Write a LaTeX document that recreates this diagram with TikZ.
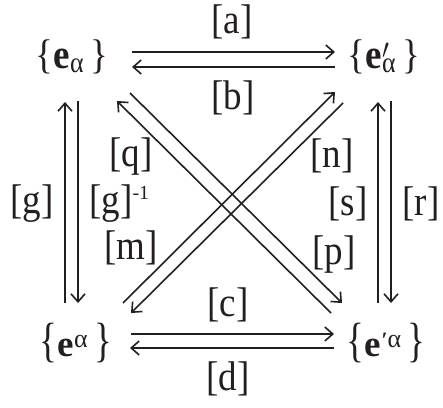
\documentclass[tikz,border=0pt]{standalone}
\usepackage{fontspec}
\setmainfont{Liberation Serif}
\usepackage{graphicx}
\usetikzlibrary{arrows.meta}
\definecolor{ink}{RGB}{35,31,32}
\newcommand\lbl[1]{\scalebox{1}[1.12]{[#1]}}
\newcommand\bigbr[1]{\scalebox{1}[1.3]{#1}}
\begin{document}
\begin{tikzpicture}[x=1pt,y=1pt,
  lab/.style={font=\fontsize{37}{40}\selectfont, inner sep=0pt, text=ink},
  vec/.style={font=\fontsize{37}{40}\selectfont, inner sep=0pt, text=ink},
  arr/.style={-{Straight Barb[length=8pt,width=14pt,line width=1.6pt]}, line width=1.6pt, draw=ink}]
\useasboundingbox (0,0) rectangle (443,407);
% vertex nodes
\node[vec] (A) at (72,350) {\scalebox{1}[1.12]{\{\textbf{e}\textsubscript{α}\,\}}};
\node[vec] (B) at (384,350) {\scalebox{1}[1.12]{\{\textbf{e}\rlap{$'$}\textsubscript{α}\,\}}};
\node[vec] (C) at (76,64) {\bigbr{\{}\textbf{e}\textsuperscript{α}\,\bigbr{\}}};
\node[vec] (D) at (386,64) {\bigbr{\{}\textbf{e}\kern1pt\raisebox{9pt}{\fontsize{22}{22}\selectfont\bfseries ′}\textsuperscript{α}\,\bigbr{\}}};
% arrow endpoints
\coordinate (a1) at (132,355); \coordinate (a2) at (335,355);
\coordinate (b1) at (335,340); \coordinate (b2) at (132,340);
\coordinate (c1) at (131,73);  \coordinate (c2) at (334,73);
\coordinate (d1) at (334,59);  \coordinate (d2) at (130,59);
\coordinate (gu1) at (65,104); \coordinate (gu2) at (65,305);
\coordinate (gd1) at (78,306); \coordinate (gd2) at (78,104);
\coordinate (ru1) at (378,104); \coordinate (ru2) at (378,305);
\coordinate (rd1) at (391,306); \coordinate (rd2) at (391,104);
\coordinate (q1) at (331,94);  \coordinate (q2) at (117,306);
\coordinate (p1) at (130,314); \coordinate (p2) at (342,104);
\coordinate (n1) at (123,104); \coordinate (n2) at (335,315);
\coordinate (m1) at (343,304); \coordinate (m2) at (131,94);
% arrows
\draw[arr] (a1) -- (a2);
\draw[arr] (b1) -- (b2);
\draw[arr] (c1) -- (c2);
\draw[arr] (d1) -- (d2);
\draw[arr] (gu1) -- (gu2);
\draw[arr] (gd1) -- (gd2);
\draw[arr] (ru1) -- (ru2);
\draw[arr] (rd1) -- (rd2);
\draw[arr] (q1) -- (q2);
\draw[arr] (p1) -- (p2);
\draw[arr] (n1) -- (n2);
\draw[arr] (m1) -- (m2);
% labels
\node[lab] (La) at (232,385) {\lbl{a}};
\node[lab] (Lb) at (233,309) {\lbl{b}};
\node[lab] (Lc) at (228,102) {\lbl{c}};
\node[lab] (Ld) at (228,28) {\lbl{d}};
\node[lab] (Lg) at (32,203) {\lbl{g}};
\node[lab] (Lgi) at (111,203) {\lbl{g}\rlap{\raisebox{14pt}{\fontsize{20}{20}\selectfont -1}}};
\node[lab] (Lq) at (131,250) {\lbl{q}};
\node[lab] (Lm) at (131,159) {\lbl{m}};
\node[lab] (Ln) at (332,251) {\lbl{n}};
\node[lab] (Ls) at (348,203) {\lbl{s}};
\node[lab] (Lp) at (334,152) {\lbl{p}};
\node[lab] (Lr) at (421,203) {\lbl{r}};
\end{tikzpicture}
\end{document}
